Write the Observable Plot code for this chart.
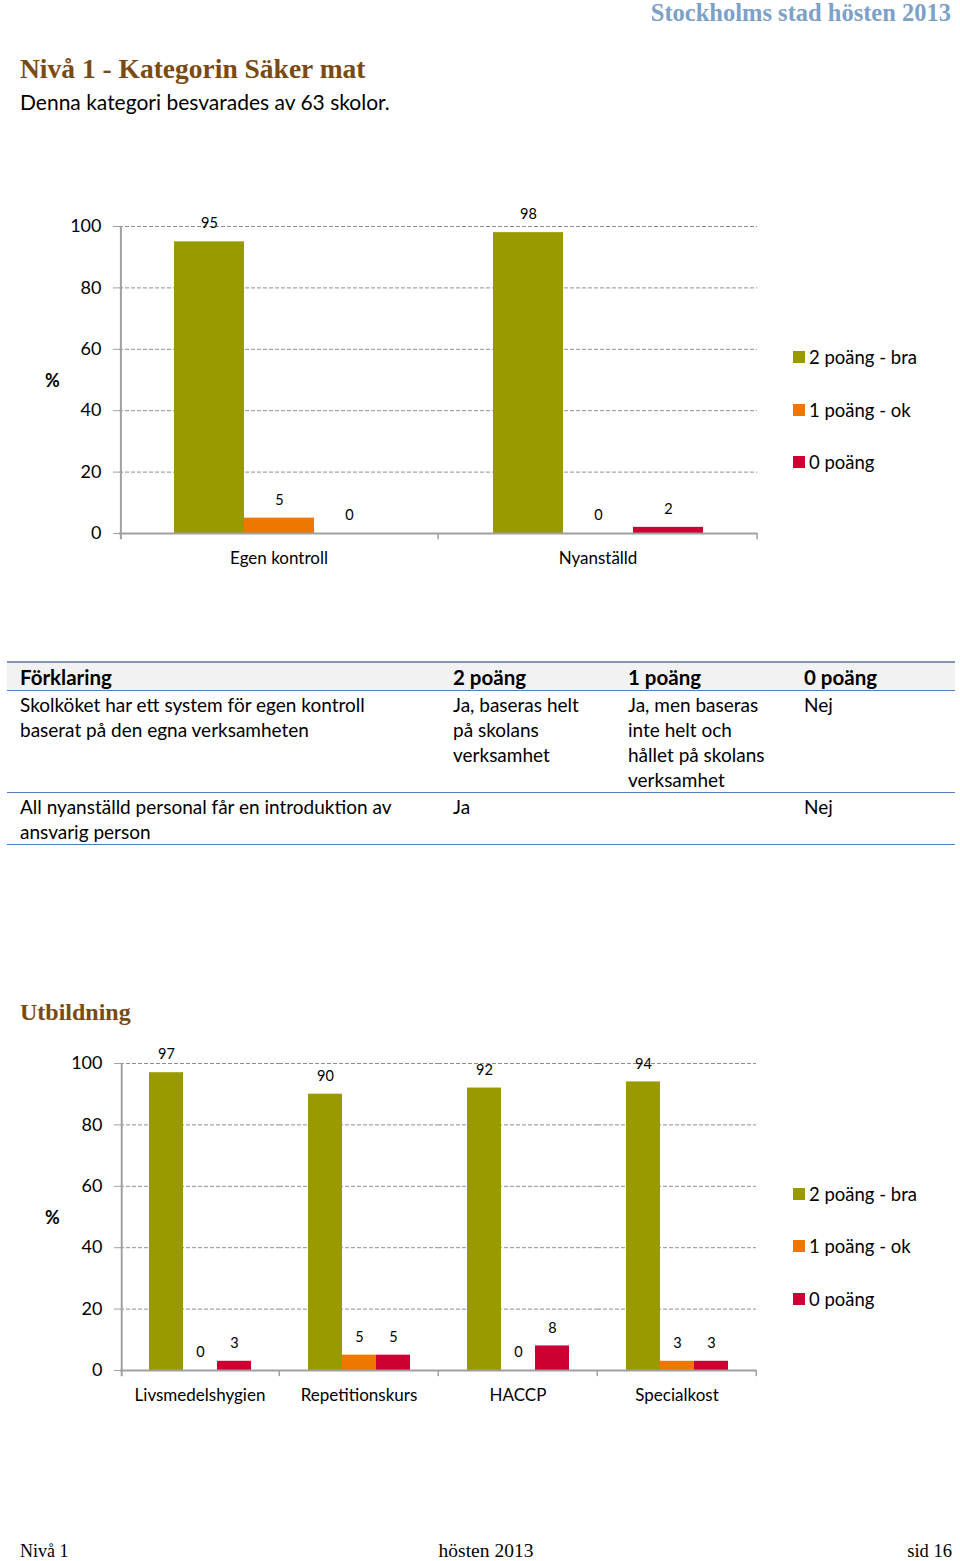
<!DOCTYPE html>
<html><head><meta charset="utf-8">
<script src="https://cdn.jsdelivr.net/npm/d3@7"></script>
<script src="https://cdn.jsdelivr.net/npm/@observablehq/plot@0.6"></script>
<style>
body{margin:0;background:#fff;}
#page{position:relative;width:960px;height:1561px;overflow:hidden;font-family:Lato,"Open Sans",sans-serif;color:#000;}
.t{position:absolute;white-space:nowrap;}
.serif{font-family:"Liberation Serif","DejaVu Serif",serif;}
.chart{position:absolute;left:0;}
.legend{position:absolute;left:793px;font-size:18.5px;}
.legend .it{position:absolute;left:0;white-space:nowrap;height:24px;line-height:24px;}
.legend .sw{display:inline-block;width:12px;height:12px;vertical-align:middle;margin-right:4px;position:relative;top:-2px;}
table.tab{position:absolute;left:7px;top:661px;width:948px;border-collapse:collapse;font-size:19px;line-height:25px;}
table.tab td, table.tab th{text-align:left;vertical-align:top;padding:1px 4px 0 13px;font-weight:normal;}
table.tab th{font-weight:bold;font-size:20.5px;padding-top:2px;padding-bottom:0;}
table.tab tr.h{background:#F2F2F2;border-top:2px solid #8496B0;border-bottom:1px solid #4F81BD;}
table.tab tr.r{border-bottom:1px solid #4F81BD;}
</style>
</head><body>
<div id="page"></div>
<script>
// ---- data ----
const series = ["2 poäng - bra", "1 poäng - ok", "0 poäng"];
const colors = ["#999900", "#EE7700", "#CC0033"];
const yTicks = [0, 20, 40, 60, 80, 100];

const cats1 = ["Egen kontroll", "Nyanställd"];
const bra1 = [95, 98];
const ok1 = [5, 0];
const noll1 = [0, 2];

const cats2 = ["Livsmedelshygien", "Repetitionskurs", "HACCP", "Specialkost"];
const bra2 = [97, 90, 92, 94];
const ok2 = [0, 5, 0, 3];
const noll2 = [3, 5, 8, 3];

const tableHead = ["Förklaring", "2 poäng", "1 poäng", "0 poäng"];
const tableRows = [
  ["Skolköket har ett system för egen kontroll<br>baserat på den egna verksamheten", "Ja, baseras helt<br>på skolans<br>verksamhet", "Ja, men baseras<br>inte helt och<br>hållet på skolans<br>verksamhet", "Nej"],
  ["All nyanställd personal får en introduktion av<br>ansvarig person", "Ja", "", "Nej"]
];

const page = document.getElementById("page");
function txt(s, opts) {
  const d = document.createElement("div");
  d.className = "t" + (opts.serif ? " serif" : "");
  d.textContent = s;
  const size = opts.size;
  const lh = opts.lh || 1.2;
  d.style.fontSize = size + "px";
  d.style.lineHeight = Math.round(size * lh) + "px";
  d.style.top = (opts.cy - size * lh / 2) + "px";
  if (opts.color) d.style.color = opts.color;
  if (opts.bold) d.style.fontWeight = "bold";
  if (opts.left != null) d.style.left = opts.left + "px";
  if (opts.right != null) d.style.right = (960 - opts.right) + "px";
  if (opts.center != null) { d.style.left = (opts.center - 200) + "px"; d.style.width = "400px"; d.style.textAlign = "center"; }
  page.appendChild(d);
  return d;
}

const brown = "#7B4A12";
txt("Stockholms stad hösten 2013", {serif: true, bold: true, size: 24.5, cy: 13, right: 951, color: "#7CA1C9"});
txt("Nivå 1 - Kategorin Säker mat", {serif: true, bold: true, size: 27.5, cy: 68, left: 20, color: brown});
txt("Denna kategori besvarades av 63 skolor.", {size: 21, cy: 102, left: 20});
txt("Utbildning", {serif: true, bold: true, size: 24, cy: 1012, left: 20, color: brown});
txt("Nivå 1", {serif: true, size: 18, cy: 1551, left: 20, lh: 1});
txt("hösten 2013", {serif: true, size: 19.5, cy: 1551, center: 486, lh: 1});
txt("sid 16", {serif: true, size: 18.5, cy: 1551, right: 952, lh: 1});

function chart(cats, vals, outer, top) {
  const data = cats.flatMap((c, i) => series.map((s, j) => ({cat: c, series: s, value: vals[j][i]})));
  const mL = 119, mR = 203, W = 960;
  const facetW = (W - mL - mR) / cats.length;
  const bw = facetW / (3 + 2 * outer);
  const off = bw * (0.5 + outer);
  const p = Plot.plot({
    width: W, height: 390, marginTop: 36, marginBottom: 47, marginLeft: mL, marginRight: mR,
    style: {fontFamily: "Lato, 'Open Sans', sans-serif", fontSize: "16px", color: "#000", background: "transparent", overflow: "visible"},
    fx: {domain: cats, padding: 0, label: null},
    x: {domain: series, paddingInner: 0, paddingOuter: outer, axis: null},
    y: {domain: [0, 100], label: null},
    color: {domain: series, range: colors},
    marks: [
      Plot.ruleY(yTicks.slice(1), {stroke: "#8f8f8f", strokeDasharray: "4,2", strokeWidth: 1}),
      Plot.barY(data, {fx: "cat", x: "series", y: "value", fill: "series"}),
      Plot.ruleY([0], {stroke: "#a0a0a0", strokeWidth: 2}),
      Plot.ruleX([cats[0]], {fx: d => d, x: () => series[0], dx: -off, y1: -2, y2: 100, stroke: "#a0a0a0", strokeWidth: 2}),
      Plot.ruleX(cats, {fx: d => d, x: () => series[2], dx: off, y1: -2, y2: 0, stroke: "#a0a0a0", strokeWidth: 1.5}),
      Plot.text(data, {fx: "cat", x: "series", y: "value", text: d => String(d.value), dy: -18, fontSize: 14.5}),
      Plot.axisY({ticks: yTicks, tickSize: 6, tickPadding: 12, stroke: "#a0a0a0", fill: "#000", fontSize: 18, label: null}),
      Plot.axisFx({anchor: "bottom", tickSize: 0, tickPadding: 18, fontSize: 17, label: null, fill: "#000"})
    ]
  });
  p.classList.add("chart");
  p.style.top = top + "px";
  page.appendChild(p);
}

chart(cats1, [bra1, ok1, noll1], 0.75, 190);
chart(cats2, [bra2, ok2, noll2], 0.78, 1027);

txt("%", {size: 18, cy: 380, left: 45, bold: true});
txt("%", {size: 18, cy: 1217, left: 45, bold: true});

function legend(cys) {
  const lg = document.createElement("div");
  lg.className = "legend";
  lg.style.top = "0px";
  series.forEach((s, i) => {
    const it = document.createElement("div");
    it.className = "it";
    it.style.top = (cys[i] - 12) + "px";
    const sw = document.createElement("span");
    sw.className = "sw";
    sw.style.background = colors[i];
    it.appendChild(sw);
    it.appendChild(document.createTextNode(s));
    lg.appendChild(it);
  });
  page.appendChild(lg);
}
legend([357, 410, 462]);
legend([1194, 1246, 1299]);

// table
const tab = document.createElement("table");
tab.className = "tab";
const widths = [433, 175, 176, 164];
let html = "<colgroup>" + widths.map(w => `<col style="width:${w}px">`).join("") + "</colgroup>";
html += "<tr class='h'>" + tableHead.map(h => `<th>${h}</th>`).join("") + "</tr>";
tableRows.forEach(r => { html += "<tr class='r'>" + r.map(c => `<td>${c}</td>`).join("") + "</tr>"; });
tab.innerHTML = html;
page.appendChild(tab);
</script>
</body></html>
